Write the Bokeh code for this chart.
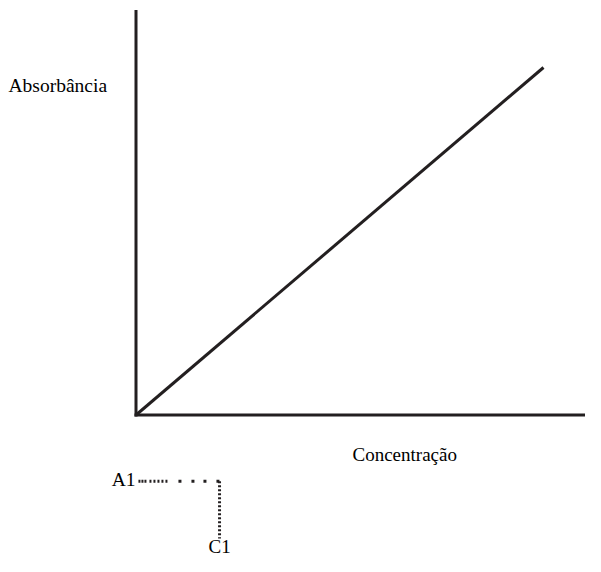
from bokeh.plotting import figure
from bokeh.models import Range1d
from bokeh.core.properties import value
from bokeh.embed import file_html
from bokeh.resources import INLINE

# ---- data (schematic calibration curve) ----
concentracao = [0.0, 1.0]
absorbancia = [0.0, 1.0]
leitura_c1 = 0.205      # concentration read for A1
leitura_a1 = -0.191     # absorbance reading A1 (drawn below the axis in the sketch)
guia_inicio = 0.006
guia_fim = -0.3554
eixo_x_max = 1.12
eixo_y_max = 1.161
rotulo_y = "Absorbância"
rotulo_x = "Concentração"
rotulo_a1 = "A1"
rotulo_c1 = "C1"

INK = "#231f20"
FONT = value("Liberation Serif")

W, H = 585, 556
xs, xe = -0.33252, 1.10306
ys, ye = -0.40719, 1.19281

p = figure(width=W, height=H, x_range=Range1d(xs, xe), y_range=Range1d(ys, ye),
           output_backend="svg", toolbar_location=None, min_border=0,
           x_axis_location=None, y_axis_location=None, outline_line_color=None,
           background_fill_color="white", border_fill_color="white")
p.grid.grid_line_color = None

# axes
p.line([0, eixo_x_max], [0, 0], line_width=3, line_color=INK, line_cap="square")
p.line([0, 0], [0, eixo_y_max], line_width=3, line_color=INK, line_cap="square")

# calibration line
p.line(concentracao, absorbancia, line_width=3, line_color=INK)

# dotted reading guides
p.line([guia_inicio, leitura_c1], [leitura_a1, leitura_a1], line_width=3, line_color=INK,
       line_dash="2 1 2 1 2 3 2 2 2 2 2 2 2 2 2 11 3 10 3 9 3 10 3 30")
p.line([leitura_c1, leitura_c1], [leitura_a1, guia_fim], line_width=3, line_color=INK,
       line_dash="2 2")

# labels
p.text(x=[-0.3129], y=[0.948], text=[rotulo_y], text_font=FONT, text_font_size="19.5px",
       text_align="left", text_baseline="alphabetic", text_color="black")
p.text(x=[0.5313], y=[-0.1128], text=[rotulo_x], text_font=FONT, text_font_size="19px",
       text_align="left", text_baseline="alphabetic", text_color="black")
p.text(x=[-0.001], y=[-0.1848], text=[rotulo_a1], text_font=FONT, text_font_size="19.5px",
       text_align="right", text_baseline="alphabetic", text_color="black")
p.text(x=[leitura_c1], y=[-0.3784], text=[rotulo_c1], text_font=FONT, text_font_size="19px",
       text_align="center", text_baseline="alphabetic", text_color="black")

open("out.html", "w").write(file_html(p, INLINE))
